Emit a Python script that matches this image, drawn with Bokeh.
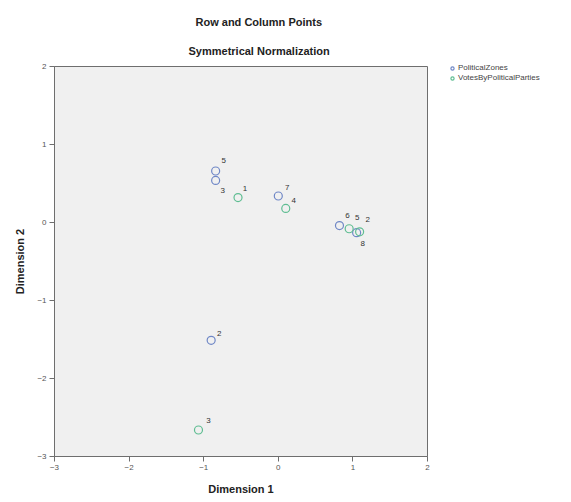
from bokeh.plotting import figure
from bokeh.models import (ColumnDataSource, Range1d, FixedTicker, Legend,
                          LegendItem, Title)
from bokeh.embed import file_html
from bokeh.resources import INLINE

# ---- data ----
zone_labels = ["5", "3", "7", "6", "8", "2"]
zone_x = [-0.84, -0.84, 0.00, 0.82, 1.05, -0.90]
zone_y = [0.66, 0.54, 0.34, -0.04, -0.13, -1.51]

party_labels = ["1", "4", "5", "2", "3"]
party_x = [-0.54, 0.10, 0.95, 1.09, -1.07]
party_y = [0.32, 0.18, -0.08, -0.12, -2.66]

x_ticks = [-3, -2, -1, 0, 1, 2]
y_ticks = [-3, -2, -1, 0, 1, 2]

# label placement (screen px offsets, layout only)
zone_dx = [8, 7, 9, 8, 6, 8]
zone_dy = [-11, 10, -8, -10, 11, -7]
party_dx = [7, 8, 8, 8, 10]
party_dy = [-9, -8, -11, -12, -9]

ZONE_COLOR = "#6f87c6"
PARTY_COLOR = "#5fbd92"
FONT = "Liberation Sans"

p = figure(frame_width=373, frame_height=390, output_backend="svg",
           toolbar_location=None,
           x_range=Range1d(-3, 2), y_range=Range1d(-3, 2),
           min_border_left=54, min_border_right=144, min_border_top=66,
           min_border_bottom=45)

p.background_fill_color = "#f0f0f0"
p.border_fill_color = "white"
p.outline_line_color = "#6e6e6e"
p.outline_line_width = 1
p.grid.visible = False

for ax in (p.xaxis[0], p.yaxis[0]):
    ax.axis_line_color = "#6e6e6e"
    ax.major_tick_line_color = "#6e6e6e"
    ax.major_tick_out = 5
    ax.major_tick_in = 0
    ax.minor_tick_line_color = None
    ax.major_label_text_font = FONT
    ax.major_label_text_font_size = "8px"
    ax.major_label_text_color = "#555555"
    ax.axis_label_text_font = FONT
    ax.axis_label_text_font_style = "bold"
    ax.axis_label_text_font_size = "11px"
    ax.axis_label_text_color = "#222222"

p.xaxis.ticker = FixedTicker(ticks=x_ticks)
p.yaxis.ticker = FixedTicker(ticks=y_ticks)
p.xaxis.axis_label = "Dimension 1"
p.yaxis.axis_label = "Dimension 2"
p.xaxis.major_label_standoff = 3
p.yaxis.major_label_standoff = 3
p.xaxis.axis_label_standoff = 10
p.yaxis.axis_label_standoff = 8

zone_src = ColumnDataSource(dict(x=zone_x, y=zone_y, t=zone_labels,
                                 dx=zone_dx, dy=zone_dy))
party_src = ColumnDataSource(dict(x=party_x, y=party_y, t=party_labels,
                                  dx=party_dx, dy=party_dy))

r_zone = p.scatter("x", "y", source=zone_src, marker="circle", size=8,
                   fill_color=None, line_color=ZONE_COLOR, line_width=1.2)
r_party = p.scatter("x", "y", source=party_src, marker="circle", size=8,
                    fill_color=None, line_color=PARTY_COLOR, line_width=1.2)

for src in (zone_src, party_src):
    p.text("x", "y", text="t", source=src, x_offset="dx", y_offset="dy",
           text_font_size="8px", text_color="#333333", text_align="center",
           text_baseline="middle", text_font={"value": FONT})

legend = Legend(items=[LegendItem(label="PoliticalZones", renderers=[r_zone]),
                       LegendItem(label="VotesByPoliticalParties", renderers=[r_party])],
                location=(21, 374), orientation="vertical")
legend.label_text_font = FONT
legend.label_text_font_size = "8px"
legend.label_text_color = "#444444"
legend.label_standoff = 2
legend.label_height = 8
legend.glyph_width = 8
legend.glyph_height = 8
legend.spacing = 1
legend.padding = 0
legend.margin = 0
legend.background_fill_alpha = 0
legend.border_line_color = None
p.add_layout(legend, "right")

sub = Title(text="Symmetrical Normalization", align="left", offset=134,
            vertical_align="middle", standoff=18, text_font=FONT,
            text_font_style="bold", text_font_size="11px",
            text_color="#222222")
main = Title(text="Row and Column Points", align="left", offset=141,
             vertical_align="middle", standoff=12, text_font=FONT,
             text_font_style="bold", text_font_size="11px",
             text_color="#222222")
p.add_layout(sub, "above")
p.add_layout(main, "above")

open("out.html", "w").write(file_html(p, INLINE))
